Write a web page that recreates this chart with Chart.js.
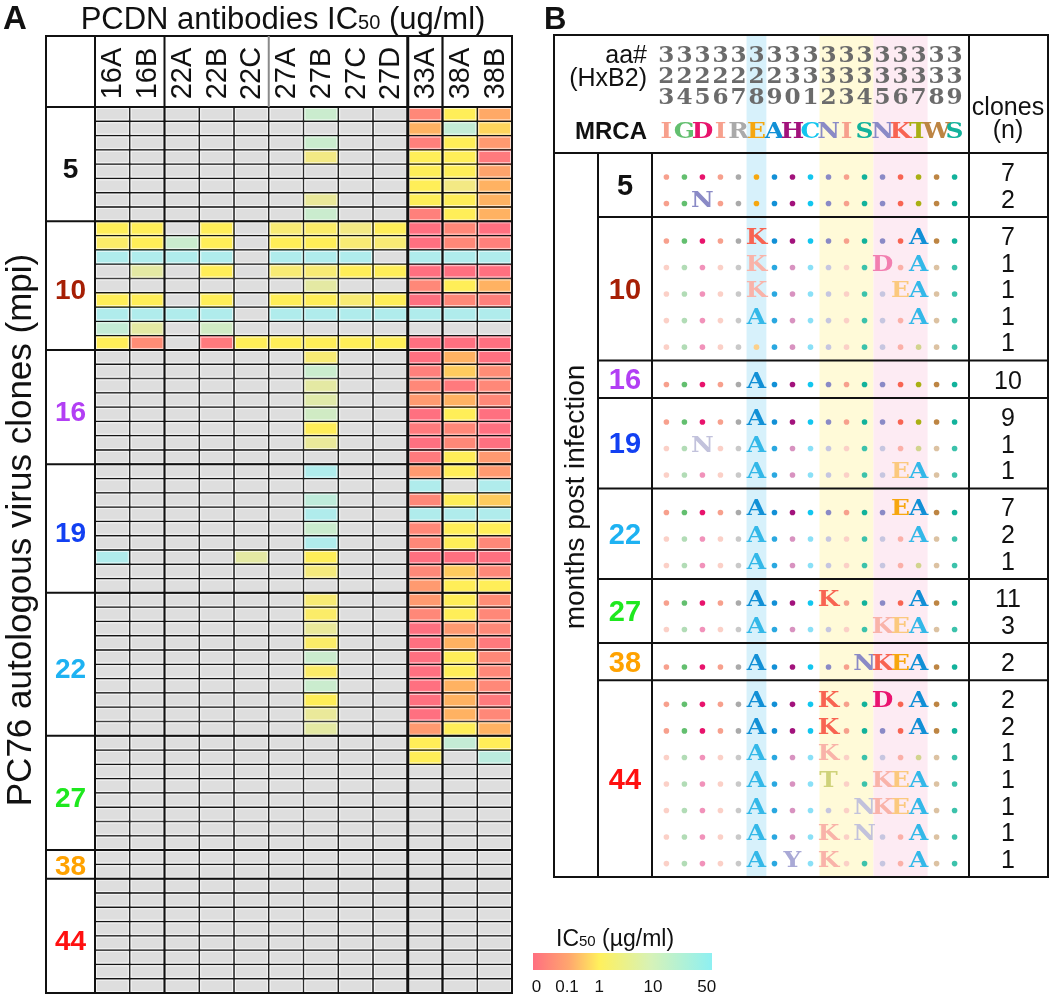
<!DOCTYPE html>
<html>
<head>
<meta charset="utf-8">
<script src="https://cdn.jsdelivr.net/npm/chart.js@4.4.0/dist/chart.umd.min.js"></script>
<style>
  html, body { margin: 0; padding: 0; background: #fff; }
  #wrap { position: relative; width: 1050px; height: 995px; overflow: hidden; }
  canvas { position: absolute; top: 0; }
  #chartA { left: 0; }
  #chartB { left: 525px; }
</style>
</head>
<body>
<div id="wrap">
  <canvas id="chartA" width="525" height="995"></canvas>
  <canvas id="chartB" width="525" height="995"></canvas>
</div>
<script>
// ---------- panel A : IC50 heatmap (null = not neutralised, grey) ----------
const antibodies = ['16A', '16B', '22A', '22B', '22C', '27A', '27B', '27C', '27D', '33A', '38A', '38B']
const mpiGroups = ['5', '10', '16', '19', '22', '27', '38', '44']
const mpiColors = ['#111111', '#a61f05', '#b23ff4', '#1240f2', '#1eb2f2', '#1ee81e', '#ffa200', '#ff1010']

const _ = null
const ic50_m5 = [
  [_, _, _, _, _, _, 15, _, _, 0.05, 1, 0.2],
  [_, _, _, _, _, _, _, _, _, 0.3, 20, 0.6],
  [_, _, _, _, _, _, 15, _, _, 0.03, 1, 0.1],
  [_, _, _, _, _, _, 3, _, _, 1, 1, 0.02],
  [_, _, _, _, _, _, _, _, _, 1, 1, 0.15],
  [_, _, _, _, _, _, _, _, _, 1, 3, 0.3],
  [_, _, _, _, _, _, 5, _, _, 1, 1, 0.3],
  [_, _, _, _, _, _, 15, _, _, 0.03, 1, 0.3]
]
const ic50_m10 = [
  [1, 1, _, 1, _, 2, 1.5, 3, 1, 0.01, 0.05, 0.01],
  [1.5, 1, 15, 1, _, 1, 1, 2, 2, 0.01, 0.05, 0.03],
  [50, 50, 50, 50, _, 50, 50, 50, _, 50, 50, 50],
  [_, 6, _, 1, _, 2, 2, 1, 1, 0.01, 0.01, 0.01],
  [_, _, _, _, _, _, 6, _, _, 0.05, 1, 0.3],
  [1, 1, _, 1, _, 1, 1, 2, 1, 0.01, 0.05, 0.03],
  [50, 50, 50, 50, _, 50, 50, 50, 50, 50, 50, 50],
  [20, 6, _, 12, _, _, _, _, _, _, _, _],
  [1, 0.06, _, 0.02, 1, 1, 1, 1, 1, 0.01, 0.01, 0.01]
]
const ic50_m16 = [
  [_, _, _, _, _, _, 2, _, _, 0.01, 0.3, 0.01],
  [_, _, _, _, _, _, 15, _, _, 0.03, 0.5, 0.06],
  [_, _, _, _, _, _, 6, _, _, 0.05, 0.02, 0.05],
  [_, _, _, _, _, _, 7, _, _, 0.1, 0.3, 0.05],
  [_, _, _, _, _, _, 12, _, _, 0.01, 1, 0.01],
  [_, _, _, _, _, _, 1, _, _, 0.02, 0.05, 0.01],
  [_, _, _, _, _, _, 5, _, _, 0.01, 0.05, 0.01],
  [_, _, _, _, _, _, _, _, _, 0.02, 1, 0.1]
]
const ic50_m19 = [
  [_, _, _, _, _, _, 50, _, _, 0.1, 1, 0.1],
  [_, _, _, _, _, _, _, _, _, 50, _, 50],
  [_, _, _, _, _, _, 25, _, _, 0.05, 1, 0.5],
  [_, _, _, _, _, _, 50, _, _, 50, 50, 50],
  [_, _, _, _, _, _, 15, _, _, 0.05, 1, 1],
  [_, _, _, _, _, _, 50, _, _, 0.05, 1, 0.05],
  [50, _, _, _, 6, _, 1, _, _, 0.01, 0.01, 0.01],
  [_, _, _, _, _, _, 2.5, _, _, 0.05, 0.5, 0.05],
  [_, _, _, _, _, _, _, _, _, 0.1, 1, 1]
]
const ic50_m22 = [
  [_, _, _, _, _, _, 2, _, _, 0.1, 1, 0.06],
  [_, _, _, _, _, _, 1.5, _, _, 0.05, 1, 0.05],
  [_, _, _, _, _, _, 5, _, _, 0.01, 0.1, 0.05],
  [_, _, _, _, _, _, 1.5, _, _, 0.01, 0.3, 0.02],
  [_, _, _, _, _, _, 15, _, _, 0.01, 1, 0.05],
  [_, _, _, _, _, _, 1.5, _, _, 0.01, 1, 0.05],
  [_, _, _, _, _, _, 15, _, _, 0.01, 0.3, 0.05],
  [_, _, _, _, _, _, 1, _, _, 0.01, 0.3, 0.02],
  [_, _, _, _, _, _, 5, _, _, 0.01, 0.3, 0.05],
  [_, _, _, _, _, _, 6, _, _, 0.1, 1, 0.3]
]
const ic50_m27 = [
  [_, _, _, _, _, _, _, _, _, 1, 20, 1],
  [_, _, _, _, _, _, _, _, _, 1, _, 30],
  [_, _, _, _, _, _, _, _, _, _, _, _],
  [_, _, _, _, _, _, _, _, _, _, _, _],
  [_, _, _, _, _, _, _, _, _, _, _, _],
  [_, _, _, _, _, _, _, _, _, _, _, _],
  [_, _, _, _, _, _, _, _, _, _, _, _],
  [_, _, _, _, _, _, _, _, _, _, _, _]
]
const ic50_m38 = [
  [_, _, _, _, _, _, _, _, _, _, _, _],
  [_, _, _, _, _, _, _, _, _, _, _, _]
]
const ic50_m44 = [
  [_, _, _, _, _, _, _, _, _, _, _, _],
  [_, _, _, _, _, _, _, _, _, _, _, _],
  [_, _, _, _, _, _, _, _, _, _, _, _],
  [_, _, _, _, _, _, _, _, _, _, _, _],
  [_, _, _, _, _, _, _, _, _, _, _, _],
  [_, _, _, _, _, _, _, _, _, _, _, _],
  [_, _, _, _, _, _, _, _, _, _, _, _],
  [_, _, _, _, _, _, _, _, _, _, _, _]
]

// ---------- panel B : env 323-339 sequences vs MRCA ----------
const aaPos = [323, 324, 325, 326, 327, 328, 329, 330, 331, 332, 333, 334, 335, 336, 337, 338, 339]
const mrca = ['I', 'G', 'D', 'I', 'R', 'E', 'A', 'H', 'C', 'N', 'I', 'S', 'N', 'K', 'T', 'W', 'S']
const bandBlue = [328]
const bandYellow = [332, 333, 334]
const bandPink = [335, 336, 337]

const seq_m5 = ['.................', '..N..............']
const clones_m5 = [7, 2]
const dim_m5 = [0, 0]
const seq_m10 = ['.....K........A..', '.....K......D.A..', '.....K.......EA..', '.....A........A..', '.................']
const clones_m10 = [7, 1, 1, 1, 1]
const dim_m10 = [0, 1, 1, 1, 1]
const seq_m16 = ['.....A...........']
const clones_m16 = [10]
const dim_m16 = [0]
const seq_m19 = ['.....A...........', '..N..A...........', '.....A.......EA..']
const clones_m19 = [9, 1, 1]
const dim_m19 = [0, 1, 1]
const seq_m22 = ['.....A.......EA..', '.....A........A..', '.....A...........']
const clones_m22 = [7, 2, 1]
const dim_m22 = [0, 1, 1]
const seq_m27 = ['.....A...K....A..', '.....A......KEA..']
const clones_m27 = [11, 3]
const dim_m27 = [0, 1]
const seq_m38 = ['.....A.....NKEA..']
const clones_m38 = [2]
const dim_m38 = [0]
const seq_m44 = ['.....A...K..D.A..', '.....A...K....A..', '.....A...K.......', '.....A...T..KEA..', '.....A.....NKEA..', '.....A...K.N..A..', '.....A.Y.K....A..']
const clones_m44 = [2, 2, 1, 1, 1, 1, 1]
const dim_m44 = [0, 0, 1, 1, 1, 1, 1]

// amino-acid colours (MRCA columns, then mutant letters)
const mrcaColors = ['#f7a08d', '#63bf6f', '#e8136c', '#f7a08d', '#aaaaaa', '#f6a70f', '#1290d6', '#a2127c', '#12c6ef', '#8a8ac6', '#f7a08d', '#12b29b', '#8a8ac6', '#f86452', '#a9b013', '#bd8543', '#12b29b']
const mrcaColorsDim = ['#fbd0c7', '#b2dcb6', '#f192ba', '#fbd0c7', '#c9c9c9', '#fcd08a', '#2aa8e0', '#d892c0', '#8ae0f7', '#c6c6e0', '#fbd0c7', '#3cc2ab', '#c6c6e0', '#fbb0a8', '#d2d48e', '#dcc2a2', '#3cc2ab']
const aaColors = { K: '#f86452', A: '#1290d6', D: '#ea1470', E: '#f7a70f', N: '#8a8ac6', T: '#a9b013', Y: '#8a8ac6' }
const aaColorsDim = { K: '#f9b3a9', A: '#34b8e8', D: '#f27fb0', E: '#fbc97e', N: '#c2c2dc', T: '#cfd27a', Y: '#a9a9d6' }

const FONT = '"Liberation Sans", Arial, Helvetica, sans-serif'
const SERIF = '"DejaVu Serif", "Liberation Serif", serif'

// IC50 -> colour (log interpolation, same ramp as the colour key)
const IC_STOPS = [
  [0.01, [255, 112, 128]], [0.05, [255, 136, 120]], [0.1, [255, 154, 112]],
  [0.3, [255, 178, 98]], [1, [255, 238, 88]], [4, [240, 232, 144]],
  [15, [202, 236, 206]], [50, [176, 236, 236]]
]
const GREY = '#dedede'

function ic50Color (v) {
  if (v == null) return GREY
  const lv = Math.log10(Math.max(v, IC_STOPS[0][0]))
  for (let i = 1; i < IC_STOPS.length; i++) {
    const a = IC_STOPS[i - 1]; const b = IC_STOPS[i]
    const la = Math.log10(a[0]); const lb = Math.log10(b[0])
    if (lv <= lb) {
      const t = (lv - la) / (lb - la)
      const c = a[1].map((ch, k) => Math.round(ch + (b[1][k] - ch) * t))
      return `rgb(${c[0]},${c[1]},${c[2]})`
    }
  }
  const c = IC_STOPS[IC_STOPS.length - 1][1]
  return `rgb(${c[0]},${c[1]},${c[2]})`
}

// draw text made of pieces with different sizes (for the "50" of IC50)
function drawParts (ctx, parts, x, yBase, align) {
  let w = 0
  parts.forEach(p => { ctx.font = p.font; w += ctx.measureText(p.t).width })
  let cx = align === 'center' ? x - w / 2 : x
  ctx.textAlign = 'left'
  ctx.textBaseline = 'alphabetic'
  parts.forEach(p => {
    ctx.font = p.font
    ctx.fillText(p.t, cx, yBase)
    cx += ctx.measureText(p.t).width
  })
}

// wide serif glyph (stands in for the Courier-bold of the figure)
function wideChar (ctx, ch, x, yBase, sx) {
  ctx.save()
  ctx.translate(x, yBase)
  ctx.scale(sx, 1)
  ctx.fillText(ch, 0, 0)
  ctx.restore()
}

/* -------------------- panel A -------------------- */

const heatGroups = [ic50_m5, ic50_m10, ic50_m16, ic50_m19, ic50_m22, ic50_m27, ic50_m38, ic50_m44]
const heatRows = [].concat(...heatGroups)
const rowLabels = heatRows.map((r, i) => 'clone ' + (i + 1))

const LBL_LEFT = 46 // left edge of the mpi label column
const HEAD_TOP = 36

const panelA = {
  id: 'panelA',
  afterDatasetsDraw (chart) {
    const { ctx, chartArea: ca, scales: { x, y } } = chart
    ctx.save()

    // light inner edge of each cell
    ctx.strokeStyle = 'rgba(255,255,255,0.65)'
    ctx.lineWidth = 1
    chart.data.datasets.forEach((ds, i) => {
      chart.getDatasetMeta(i).data.forEach(bar => {
        const l = Math.min(bar.x, bar.base); const r = Math.max(bar.x, bar.base)
        const t = bar.y - bar.height / 2
        ctx.strokeRect(l + 1.5, t + 1.5, r - l - 3, bar.height - 3)
      })
    })

    ctx.strokeStyle = '#111'
    ctx.lineWidth = 2
    // group boundaries + mpi labels
    let k = 0
    heatGroups.forEach((g, gi) => {
      const y0 = y.getPixelForValue(k - 0.5)
      const y1 = y.getPixelForValue(k + g.length - 0.5)
      ctx.beginPath(); ctx.moveTo(LBL_LEFT, y0); ctx.lineTo(ca.right, y0); ctx.stroke()
      const off = Math.min(6, (y1 - y0 - 22) / 2)
      ctx.fillStyle = mpiColors[gi]
      ctx.font = `bold 28px ${FONT}`
      ctx.textAlign = 'center'; ctx.textBaseline = 'middle'
      ctx.fillText(mpiGroups[gi], (LBL_LEFT + ca.left) / 2, (y0 + y1) / 2 + off)
      k += g.length
    })

    // outer frame, label column, header
    ctx.strokeRect(LBL_LEFT, HEAD_TOP, ca.right - LBL_LEFT, ca.bottom - HEAD_TOP)
    ctx.beginPath(); ctx.moveTo(ca.left, HEAD_TOP); ctx.lineTo(ca.left, ca.bottom); ctx.stroke()
    ctx.beginPath(); ctx.moveTo(LBL_LEFT, ca.top); ctx.lineTo(ca.right, ca.top); ctx.stroke()

    // antibody-family separators
    const seps = [[2, 2, '#111', true], [5, 2, '#8a8a8a', false], [9, 3, '#111', true], [10, 2.2, '#111', true]]
    seps.forEach(([c, lw, col, full]) => {
      const px = x.getPixelForValue(c)
      ctx.lineWidth = lw; ctx.strokeStyle = col
      ctx.beginPath(); ctx.moveTo(px, HEAD_TOP); ctx.lineTo(px, full ? ca.bottom : ca.top); ctx.stroke()
    })

    // column labels (rotated)
    ctx.fillStyle = '#111'
    ctx.font = `29px ${FONT}`
    ctx.textAlign = 'center'; ctx.textBaseline = 'middle'
    antibodies.forEach((ab, c) => {
      ctx.save()
      ctx.translate(x.getPixelForValue(c + 0.5) + 1, (HEAD_TOP + ca.top) / 2 + 2)
      ctx.rotate(-Math.PI / 2)
      ctx.fillText(ab, 0, 0)
      ctx.restore()
    })

    // titles
    ctx.fillStyle = '#111'
    drawParts(ctx, [
      { t: 'PCDN antibodies IC', font: `31px ${FONT}` },
      { t: '50', font: `20px ${FONT}` },
      { t: ' (ug/ml)', font: `31px ${FONT}` }
    ], 283, 29, 'center')
    ctx.font = `bold 33px ${FONT}`
    ctx.textAlign = 'left'; ctx.textBaseline = 'alphabetic'
    ctx.fillText('A', 3, 29)

    ctx.save()
    ctx.translate(21, 530)
    ctx.rotate(-Math.PI / 2)
    ctx.font = `35px ${FONT}`
    ctx.textAlign = 'center'; ctx.textBaseline = 'middle'
    ctx.fillText('PC76 autologous virus clones (mpi)', 0, 0)
    ctx.restore()

    ctx.restore()
  }
}

new Chart(document.getElementById('chartA'), {
  type: 'bar',
  data: {
    labels: rowLabels,
    datasets: antibodies.map((ab, c) => ({
      label: ab,
      data: heatRows.map(() => [c, c + 1]),
      backgroundColor: heatRows.map(r => ic50Color(r[c])),
      borderColor: '#151515',
      borderWidth: 1,
      borderSkipped: false,
      grouped: false,
      barPercentage: 1,
      categoryPercentage: 1
    }))
  },
  options: {
    indexAxis: 'y',
    responsive: false,
    animation: false,
    layout: { padding: { left: 95, right: 13, top: 107, bottom: 2 } },
    plugins: { legend: { display: false }, tooltip: { enabled: false } },
    scales: {
      x: { type: 'linear', min: 0, max: 12, display: false },
      y: { type: 'category', display: false }
    }
  },
  plugins: [panelA]
})

/* -------------------- panel B -------------------- */

const seqGroups = [seq_m5, seq_m10, seq_m16, seq_m19, seq_m22, seq_m27, seq_m38, seq_m44]
const cloneGroups = [clones_m5, clones_m10, clones_m16, clones_m19, clones_m22, clones_m27, clones_m38, clones_m44]
const dimGroups = [dim_m5, dim_m10, dim_m16, dim_m19, dim_m22, dim_m27, dim_m38, dim_m44]

const GROUP_PAD = 0.41 // extra height of a group box, in rows
const DOT_DROP = 0.2 // dots sit a little below the row centre

const rowsB = []
const groupSpans = []
let yCursor = 0
seqGroups.forEach((g, gi) => {
  const top = yCursor
  g.forEach((s, r) => {
    rowsB.push({ seq: s, n: cloneGroups[gi][r], dim: dimGroups[gi][r], y: top + GROUP_PAD / 2 + r + 0.5 + DOT_DROP })
  })
  yCursor += g.length + GROUP_PAD
  groupSpans.push([top, yCursor])
})
const totalRows = yCursor

const dotPoints = []
const dotColors = []
rowsB.forEach(row => {
  row.seq.split('').forEach((ch, i) => {
    if (ch !== '.') return
    dotPoints.push({ x: aaPos[i], y: row.y })
    dotColors.push(row.dim ? mrcaColorsDim[i] : mrcaColors[i])
  })
})

const OXB = 525 // page x of canvas B
const TB_LEFT = 554 - OXB
const TB_RIGHT = 1048 - OXB
const TB_TOP = 35
const COL1 = 598 - OXB

const panelB = {
  id: 'panelB',
  beforeDatasetsDraw (chart) {
    const { ctx, chartArea: ca, scales: { x } } = chart
    ctx.save()
    const bands = [[bandBlue, '#d7f1fb', 0.55], [bandYellow, '#fffad8', 0.5], [bandPink, '#fdebf3', 0.5]]
    bands.forEach(([list, col, half]) => {
      const x0 = x.getPixelForValue(list[0] - half)
      const x1 = x.getPixelForValue(list[list.length - 1] + half)
      ctx.fillStyle = col
      ctx.fillRect(x0, TB_TOP, x1 - x0, ca.bottom - TB_TOP)
    })
    ctx.restore()
  },
  afterDatasetsDraw (chart) {
    const { ctx, chartArea: ca, scales: { x, y } } = chart
    ctx.save()

    // mutated residues
    ctx.textAlign = 'center'; ctx.textBaseline = 'alphabetic'
    ctx.font = `bold 23px ${SERIF}`
    rowsB.forEach(row => {
      const py = y.getPixelForValue(row.y)
      row.seq.split('').forEach((ch, i) => {
        if (ch === '.') return
        ctx.fillStyle = row.dim ? aaColorsDim[ch] : aaColors[ch]
        wideChar(ctx, ch, x.getPixelForValue(aaPos[i]), py + 3, 1.08)
      })
      // clone counts
      ctx.save()
      ctx.fillStyle = '#111'
      ctx.font = `25px ${FONT}`
      ctx.textBaseline = 'alphabetic'
      ctx.fillText(String(row.n), 483, py + 4)
      ctx.restore()
    })

    // table lines
    ctx.strokeStyle = '#111'
    ctx.lineWidth = 2
    ctx.strokeRect(TB_LEFT, TB_TOP, TB_RIGHT - TB_LEFT, ca.bottom - TB_TOP)
    ctx.beginPath(); ctx.moveTo(TB_LEFT, ca.top); ctx.lineTo(TB_RIGHT, ca.top); ctx.stroke()
    ctx.beginPath(); ctx.moveTo(ca.right, TB_TOP); ctx.lineTo(ca.right, ca.bottom); ctx.stroke()
    ;[COL1, ca.left].forEach(px => {
      ctx.beginPath(); ctx.moveTo(px, ca.top); ctx.lineTo(px, ca.bottom); ctx.stroke()
    })
    groupSpans.forEach(([g0, g1], gi) => {
      const y0 = y.getPixelForValue(g0)
      const y1 = y.getPixelForValue(g1)
      if (gi > 0) {
        ctx.beginPath(); ctx.moveTo(COL1, y0); ctx.lineTo(TB_RIGHT, y0); ctx.stroke()
      }
      ctx.fillStyle = mpiColors[gi]
      ctx.font = `bold 29px ${FONT}`
      ctx.textAlign = 'center'; ctx.textBaseline = 'middle'
      ctx.fillText(mpiGroups[gi], (COL1 + ca.left) / 2, (y0 + y1) / 2 + 2)
    })

    // header: HxB2 numbering and MRCA
    ctx.textAlign = 'center'; ctx.textBaseline = 'alphabetic'
    ctx.font = `bold 22px ${SERIF}`
    ctx.fillStyle = '#6b6b6b'
    aaPos.forEach(p => {
      const s = String(p)
      const px = x.getPixelForValue(p)
      wideChar(ctx, s[0], px, 62, 1.05)
      wideChar(ctx, s[1], px, 83, 1.05)
      wideChar(ctx, s[2], px, 104, 1.05)
    })
    ctx.font = `bold 23px ${SERIF}`
    mrca.forEach((aa, i) => {
      ctx.fillStyle = mrcaColors[i]
      wideChar(ctx, aa, x.getPixelForValue(aaPos[i]), 138, 1.08)
    })

    ctx.fillStyle = '#111'
    ctx.textAlign = 'right'
    ctx.font = `25px ${FONT}`
    ctx.fillText('aa#', 122, 63)
    ctx.fillText('(HxB2)', 122, 86)
    ctx.font = `bold 24px ${FONT}`
    ctx.fillText('MRCA', 122, 139)
    ctx.textAlign = 'center'
    ctx.font = `25px ${FONT}`
    ctx.fillText('clones', 483, 115)
    ctx.fillText('(n)', 483, 138)

    ctx.font = `bold 31px ${FONT}`
    ctx.textAlign = 'left'
    ctx.fillText('B', 19, 29)

    ctx.save()
    ctx.translate(51, 497)
    ctx.rotate(-Math.PI / 2)
    ctx.font = `28px ${FONT}`
    ctx.textAlign = 'center'; ctx.textBaseline = 'middle'
    ctx.fillText('months post infection', 0, 0)
    ctx.restore()

    // colour key for panel A
    const cbL = 533 - OXB; const cbR = 712 - OXB; const cbT = 953; const cbB = 970
    const grad = ctx.createLinearGradient(cbL, 0, cbR, 0)
    grad.addColorStop(0, '#ff6f80')
    grad.addColorStop(0.2, '#ffa66e')
    grad.addColorStop(0.37, '#fff05c')
    grad.addColorStop(0.66, '#d6f2b8')
    grad.addColorStop(1, '#8ef0f2')
    ctx.fillStyle = grad
    ctx.fillRect(cbL, cbT, cbR - cbL, cbB - cbT)
    ctx.fillStyle = '#111'
    drawParts(ctx, [
      { t: 'IC', font: `23px ${FONT}` },
      { t: '50', font: `15px ${FONT}` },
      { t: ' (\u00b5g/ml)', font: `23px ${FONT}` }
    ], 556 - OXB, 946, 'left')
    const keyTicks = [['0', 0.02], ['0.1', 0.19], ['1', 0.37], ['10', 0.67], ['50', 0.97]]
    ctx.font = `17px ${FONT}`
    ctx.textAlign = 'center'; ctx.textBaseline = 'alphabetic'
    keyTicks.forEach(([t, f]) => ctx.fillText(t, cbL + f * (cbR - cbL), 992))

    ctx.restore()
  }
}

new Chart(document.getElementById('chartB'), {
  type: 'scatter',
  data: {
    datasets: [{
      label: 'identical to MRCA',
      data: dotPoints,
      pointBackgroundColor: dotColors,
      pointBorderWidth: 0,
      pointRadius: 2.8,
      showLine: false
    }]
  },
  options: {
    responsive: false,
    animation: false,
    layout: { padding: { left: 127, right: 81, top: 153, bottom: 118 } },
    plugins: { legend: { display: false }, tooltip: { enabled: false } },
    scales: {
      x: { type: 'linear', min: 322.2, max: 339.8, display: false },
      y: { type: 'linear', min: 0, max: totalRows, reverse: true, display: false }
    }
  },
  plugins: [panelB]
})
</script>
</body>
</html>
